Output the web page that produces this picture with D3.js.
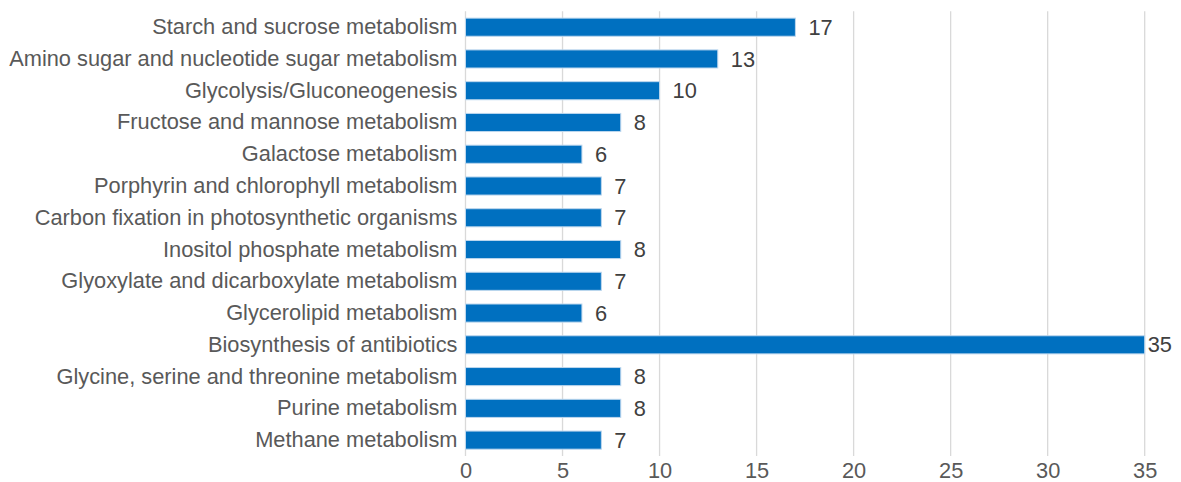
<!DOCTYPE html>
<html>
<head>
<meta charset="utf-8">
<title>KEGG pathways</title>
<style>
  body { margin: 0; background: #fff; }
  text { font-family: 'Liberation Sans', Arial, sans-serif; }
</style>
</head>
<body>
<div id="chart"></div>
<script src="https://d3js.org/d3.v7.min.js"></script>
<script>
var pathways = [
  "Starch and sucrose metabolism",
  "Amino sugar and nucleotide sugar metabolism",
  "Glycolysis/Gluconeogenesis",
  "Fructose and mannose metabolism",
  "Galactose metabolism",
  "Porphyrin and chlorophyll metabolism",
  "Carbon fixation in photosynthetic organisms",
  "Inositol phosphate metabolism",
  "Glyoxylate and dicarboxylate metabolism",
  "Glycerolipid metabolism",
  "Biosynthesis of antibiotics",
  "Glycine, serine and threonine metabolism",
  "Purine metabolism",
  "Methane metabolism"
];
var counts = [17, 13, 10, 8, 6, 7, 7, 8, 7, 6, 35, 8, 8, 7];
var xTicks = [0, 5, 10, 15, 20, 25, 30, 35];

var width = 1181, height = 482;
var margin = {top: 11.3, right: 36, bottom: 26, left: 465.5};
var fontSize = '21.8px';

var svg = d3.select('#chart').append('svg')
  .attr('width', width)
  .attr('height', height);

var x = d3.scaleLinear()
  .domain([0, 35])
  .range([margin.left, 1144.7]);

var y = d3.scaleBand()
  .domain(pathways)
  .range([margin.top, 456])
  .paddingInner(0.43)
  .paddingOuter(0.215);

// gridlines
svg.append('g')
  .selectAll('line')
  .data(xTicks)
  .enter()
  .append('line')
  .attr('x1', function(d) { return x(d); })
  .attr('x2', function(d) { return x(d); })
  .attr('y1', margin.top)
  .attr('y2', 456)
  .style('stroke', '#d9d9d9')
  .style('stroke-width', '1.3px');

// x axis labels
var xAxis = d3.axisBottom(x).tickValues(xTicks).tickSize(0).tickPadding(6.5);
var gx = svg.append('g')
  .attr('transform', 'translate(0,456)')
  .call(xAxis);
gx.select('.domain').remove();
gx.selectAll('text')
  .style('font-size', fontSize)
  .style('fill', '#595959');

// category labels
var yAxis = d3.axisLeft(y).tickSize(0).tickPadding(8);
var gy = svg.append('g')
  .attr('transform', 'translate(' + margin.left + ',0)')
  .call(yAxis);
gy.select('.domain').remove();
gy.selectAll('text')
  .style('font-size', fontSize)
  .style('fill', '#595959');

// bars
svg.append('g')
  .selectAll('rect')
  .data(counts)
  .enter()
  .append('rect')
  .attr('x', x(0))
  .attr('y', function(d, i) { return y(pathways[i]); })
  .attr('width', function(d) { return x(d) - x(0); })
  .attr('height', y.bandwidth())
  .style('fill', '#0070c0')
  .style('stroke', '#bdd7ee')
  .style('stroke-width', '1px');

// value labels
svg.append('g')
  .selectAll('text')
  .data(counts)
  .enter()
  .append('text')
  .attr('x', function(d) { return x(d) + (d === 35 ? 3 : 13); })
  .attr('y', function(d, i) { return y(pathways[i]) + y.bandwidth() / 2; })
  .attr('dy', '0.35em')
  .style('font-size', fontSize)
  .style('fill', '#404040')
  .text(function(d) { return d; });
</script>
</body>
</html>
